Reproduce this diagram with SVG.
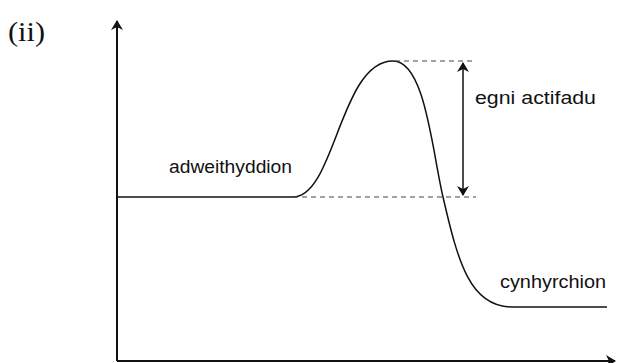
<svg xmlns="http://www.w3.org/2000/svg" width="619" height="363" viewBox="0 0 619 363">
<style>
.ax{stroke:#111;stroke-width:2;fill:none}
.ln{stroke:#111;stroke-width:1.5;fill:none}
.dash{stroke:#444;stroke-width:1.2;stroke-dasharray:5,4;fill:none}
.lbl{font-family:"Liberation Sans",Arial,sans-serif;font-size:17.5px;fill:#111}
</style>
<defs>
<marker id="ah" viewBox="0 0 10 12" refX="9" refY="6" markerWidth="10" markerHeight="12" markerUnits="userSpaceOnUse" orient="auto-start-reverse">
<path d="M0,0 L10,6 L0,12 L3,6 Z" fill="#111"/>
</marker>
</defs>
<text x="8" y="41" font-family="Liberation Serif,'Times New Roman',serif" font-size="27" textLength="37" lengthAdjust="spacingAndGlyphs" fill="#111">(ii)</text>
<g id="axes">
<path class="ax" d="M117,361 L117,21" marker-end="url(#ah)"/>
<path class="ax" d="M117,361 L615,361" marker-end="url(#ah)"/>
</g>
<g id="curve">
<path class="ln" d="M117,197 L293,197 C335,197 340,61 393,61 C425,61 432,150 443,197 C458,262 470,307 512,307 L607,307"/>
</g>
<g id="connectors">
<path class="dash" d="M395,61 L476,61"/>
<path class="dash" d="M293,197 L476,197"/>
<path class="ln" d="M463,63 L463,195" marker-start="url(#ah)" marker-end="url(#ah)"/>
</g>
<g id="labels">
<text class="lbl" x="169" y="173" textLength="123" lengthAdjust="spacingAndGlyphs">adweithyddion</text>
<text class="lbl" x="475" y="104" textLength="121" lengthAdjust="spacingAndGlyphs">egni actifadu</text>
<text class="lbl" x="500" y="288" textLength="106" lengthAdjust="spacingAndGlyphs">cynhyrchion</text>
</g>
</svg>
